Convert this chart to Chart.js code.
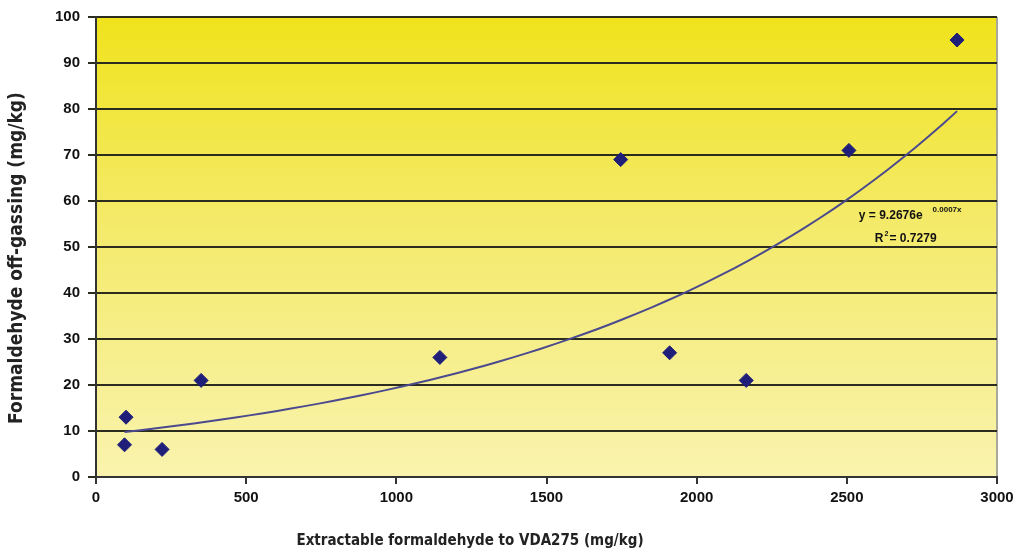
<!DOCTYPE html>
<html>
<head>
<meta charset="utf-8">
<script src="https://cdn.jsdelivr.net/npm/chart.js@4/dist/chart.umd.min.js"></script>
<style>
  body { margin: 0; background: #fff; }
  #wrap { width: 1029px; height: 556px; }
</style>
</head>
<body>
<div id="wrap"><canvas id="chart" width="1029" height="556"></canvas></div>
<script>
// extractable formaldehyde (mg/kg) vs off-gassing (mg/kg)
const extractable = [95, 100, 220, 350, 1145, 1747, 1910, 2165, 2507, 2867];
const offGassing  = [7, 13, 6, 21, 26, 69, 27, 21, 71, 95];
const xTicks = [0, 500, 1000, 1500, 2000, 2500, 3000];
const yTicks = [0, 10, 20, 30, 40, 50, 60, 70, 80, 90, 100];
const xTitle = "Extractable formaldehyde to VDA275 (mg/kg)";
const yTitle = "Formaldehyde off-gassing (mg/kg)";
const equationText = "y = 9.2676e";
const exponentText = "0.0007x";
const r2Text = "= 0.7279";

// exponential trendline: least squares on ln(y)
const n = extractable.length;
const lnY = offGassing.map(v => Math.log(v));
const mx = extractable.reduce((s, v) => s + v, 0) / n;
const my = lnY.reduce((s, v) => s + v, 0) / n;
let sxy = 0, sxx = 0;
for (let i = 0; i < n; i++) {
    sxy += (extractable[i] - mx) * (lnY[i] - my);
    sxx += (extractable[i] - mx) ** 2;
}
const b = sxy / sxx;
const a = Math.exp(my - b * mx);
const xMin = Math.min(...extractable), xMax = Math.max(...extractable);
const trend = [];
for (let k = 0; k <= 60; k++) {
    const x = xMin + (xMax - xMin) * k / 60;
    trend.push({ x: x, y: a * Math.exp(b * x) });
}

const points = extractable.map((x, i) => ({ x: x, y: offGassing[i] }));

const titleFont = "'DejaVu Sans Condensed', 'Liberation Sans Narrow', sans-serif";

const bgPlugin = {
    id: "bg",
    beforeDraw(chart) {
        const { ctx, chartArea: c } = chart;
        const g = ctx.createLinearGradient(0, c.top, 0, c.bottom);
        g.addColorStop(0, "#f0e31c");
        g.addColorStop(0.45, "#f4ea6a");
        g.addColorStop(1, "#f9f3ae");
        ctx.save();
        ctx.fillStyle = g;
        ctx.fillRect(c.left, c.top, c.right - c.left, c.bottom - c.top);
        ctx.strokeStyle = "#a8a898";
        ctx.lineWidth = 2;
        ctx.beginPath();
        ctx.moveTo(c.right, c.top);
        ctx.lineTo(c.right, c.bottom);
        ctx.stroke();
        ctx.restore();
    },
    afterDraw(chart) {
        // axis titles, placed like the original (x title is centred on the page, not the plot)
        const { ctx } = chart;
        ctx.save();
        ctx.fillStyle = "#222";
        ctx.textAlign = "center";
        ctx.textBaseline = "middle";
        ctx.font = "bold 15px " + titleFont;
        ctx.fillText(xTitle, 470, 541);
        ctx.translate(17, 258);
        ctx.rotate(-Math.PI / 2);
        ctx.font = "bold 19px " + titleFont;
        ctx.fillText(yTitle, 0, 0);
        ctx.restore();
    }
};

const labelPlugin = {
    id: "eqLabel",
    afterDatasetsDraw(chart) {
        const { ctx, scales } = chart;
        const x = scales.x.getPixelForValue(2540);
        const y = scales.y.getPixelForValue(56.5) - 1;
        const f = "'Liberation Sans', Arial, sans-serif";
        ctx.save();
        ctx.fillStyle = "#111";
        ctx.textBaseline = "middle";
        ctx.font = "bold 12px " + f;
        ctx.fillText(equationText, x, y);
        const w = ctx.measureText(equationText).width;
        ctx.font = "bold 8px " + f;
        ctx.fillText(exponentText, x + w + 10, y - 6);
        ctx.font = "bold 12px " + f;
        ctx.fillText("R", x + 16, y + 23);
        const rw = ctx.measureText("R").width;
        ctx.font = "bold 7px " + f;
        ctx.fillText("2", x + 16 + rw + 1, y + 18);
        ctx.font = "bold 12px " + f;
        ctx.fillText(r2Text, x + 16 + rw + 6, y + 23);
        ctx.restore();
    }
};

const tickFont = { family: "'Liberation Sans', Arial, sans-serif", size: 15, weight: "bold" };

new Chart(document.getElementById("chart"), {
    type: "scatter",
    data: {
        datasets: [
            {
                label: "Trend",
                data: trend,
                showLine: true,
                borderColor: "#4b4a8e",
                borderWidth: 2,
                pointRadius: 0,
                tension: 0,
                order: 2
            },
            {
                label: "Samples",
                data: points,
                pointStyle: "rectRot",
                pointRadius: 7,
                backgroundColor: "#1f1f7a",
                borderColor: "#1f1f7a",
                borderWidth: 1,
                order: 1
            }
        ]
    },
    options: {
        responsive: false,
        animation: false,
        layout: { padding: { top: 15, right: 32, left: 0, bottom: 0 } },
        plugins: {
            legend: { display: false },
            tooltip: { enabled: false }
        },
        scales: {
            x: {
                type: "linear",
                min: 0,
                max: 3000,
                afterBuildTicks: s => { s.ticks = xTicks.map(v => ({ value: v })); },
                afterFit: s => { s.height = 79; },
                grid: { drawOnChartArea: false, color: "#333", lineWidth: 2, tickLength: 7 },
                border: { color: "#333", width: 2 },
                ticks: { color: "#111", font: tickFont, padding: 5, maxRotation: 0, callback: v => String(v) }
            },
            y: {
                min: 0,
                max: 100,
                afterBuildTicks: s => { s.ticks = yTicks.map(v => ({ value: v })); },
                afterFit: s => { s.width = 96; },
                grid: { color: "#2b2b1e", lineWidth: 2, tickLength: 8 },
                border: { color: "#333", width: 2 },
                ticks: { color: "#111", font: tickFont, padding: 8, callback: v => String(v) }
            }
        }
    },
    plugins: [bgPlugin, labelPlugin]
});
</script>
</body>
</html>
